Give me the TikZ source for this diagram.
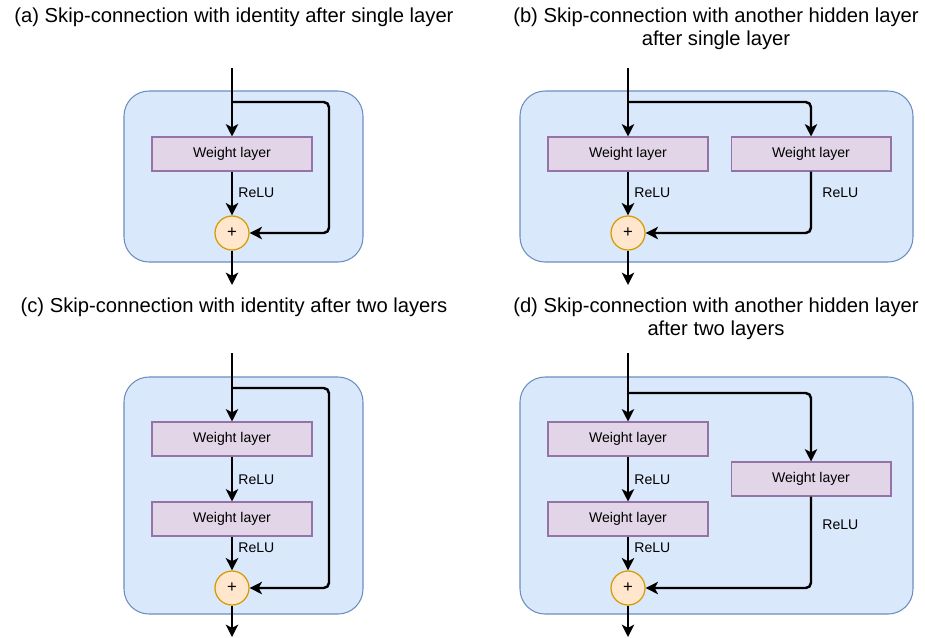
\documentclass[tikz,border=0pt]{standalone}
\usepackage{fontspec}
\setmainfont{Liberation Sans}
\usetikzlibrary{arrows.meta}
\definecolor{contfill}{HTML}{DAE8FC}
\definecolor{contline}{HTML}{6C8EBF}
\definecolor{wfill}{HTML}{E1D5E7}
\definecolor{wline}{HTML}{9673A6}
\definecolor{pfill}{HTML}{FFE6CC}
\definecolor{pline}{HTML}{D79B00}
\begin{document}
\begin{tikzpicture}
  [x=0.02cm,y=-0.02cm,
   container/.style={draw=contline,fill=contfill,line width=0.6pt,rounded corners=0.5cm},
   wlayer/.style={draw=wline,fill=wfill,line width=0.6pt,minimum width=3.2cm,minimum height=0.68cm,inner sep=0pt,font=\fontsize{8}{9}\selectfont},
   plus/.style={circle,draw=pline,fill=pfill,line width=0.7pt,minimum size=0.68cm,inner sep=0pt,font=\fontsize{9.5}{10}\selectfont},
   lbl/.style={anchor=west,inner sep=0pt,font=\fontsize{8}{9}\selectfont},
   title/.style={align=center,font=\fontsize{11.5}{13.2}\selectfont},
   arr/.style={-{Stealth[length=7pt,width=7pt,inset=1.8pt]},line width=1.4pt,rounded corners=3pt}]
  \useasboundingbox (0,0) rectangle (925,637);

  % (a)
  \node[title] (tA) at (234,17) {(a) Skip-connection with identity after single layer};
  \draw[container] (124,91) rectangle (363,262);
  \node[wlayer] (wA) at (232,154) {Weight layer};
  \node[plus] (plusA) at (232,233) {+};
  \node[lbl] (rA) at (238,193) {ReLU};
  \coordinate (inA) at (232,68);
  \coordinate (sA) at (232,102);
  \coordinate (kA) at (329,150);
  \coordinate (outA) at (232,285);
  \draw[arr] (inA) -- (wA);
  \draw[arr] (wA) -- (plusA);
  \draw[arr] (sA) -| (kA) |- (plusA);
  \draw[arr] (plusA) -- (outA);

  % (b)
  \node[title] (tB) at (716,28.5) {(b) Skip-connection with another hidden layer\\after single layer};
  \draw[container] (520,91) rectangle (913,262);
  \node[wlayer] (wB1) at (628,154) {Weight layer};
  \node[wlayer] (wB2) at (811,154) {Weight layer};
  \node[plus] (plusB) at (628,233) {+};
  \node[lbl] (rB1) at (634,193) {ReLU};
  \node[lbl] (rB2) at (822,193) {ReLU};
  \coordinate (inB) at (628,68);
  \coordinate (sB) at (628,102);
  \coordinate (outB) at (628,285);
  \draw[arr] (inB) -- (wB1);
  \draw[arr] (wB1) -- (plusB);
  \draw[arr] (sB) -| (wB2);
  \draw[arr] (wB2) |- (plusB);
  \draw[arr] (plusB) -- (outB);

  % (c)
  \node[title] (tC) at (234,307) {(c) Skip-connection with identity after two layers};
  \draw[container] (124,377) rectangle (363,614);
  \node[wlayer] (wC1) at (232,439) {Weight layer};
  \node[wlayer] (wC2) at (232,519) {Weight layer};
  \node[plus] (plusC) at (232,588) {+};
  \node[lbl] (rC1) at (238,480) {ReLU};
  \node[lbl] (rC2) at (238,548) {ReLU};
  \coordinate (inC) at (232,353);
  \coordinate (sC) at (232,388);
  \coordinate (kC) at (329,450);
  \coordinate (outC) at (232,637);
  \draw[arr] (inC) -- (wC1);
  \draw[arr] (wC1) -- (wC2);
  \draw[arr] (wC2) -- (plusC);
  \draw[arr] (sC) -| (kC) |- (plusC);
  \draw[arr] (plusC) -- (outC);

  % (d)
  \node[title] (tD) at (716,318.5) {(d) Skip-connection with another hidden layer\\after two layers};
  \draw[container] (520,377) rectangle (913,614);
  \node[wlayer] (wD1) at (628,439) {Weight layer};
  \node[wlayer] (wD2) at (628,519) {Weight layer};
  \node[wlayer] (wD3) at (811,479) {Weight layer};
  \node[plus] (plusD) at (628,588) {+};
  \node[lbl] (rD1) at (634,480) {ReLU};
  \node[lbl] (rD2) at (634,548) {ReLU};
  \node[lbl] (rD3) at (822,525) {ReLU};
  \coordinate (inD) at (628,353);
  \coordinate (sD) at (628,393);
  \coordinate (outD) at (628,637);
  \draw[arr] (inD) -- (wD1);
  \draw[arr] (wD1) -- (wD2);
  \draw[arr] (wD2) -- (plusD);
  \draw[arr] (sD) -| (wD3);
  \draw[arr] (wD3) |- (plusD);
  \draw[arr] (plusD) -- (outD);
\end{tikzpicture}
\end{document}
